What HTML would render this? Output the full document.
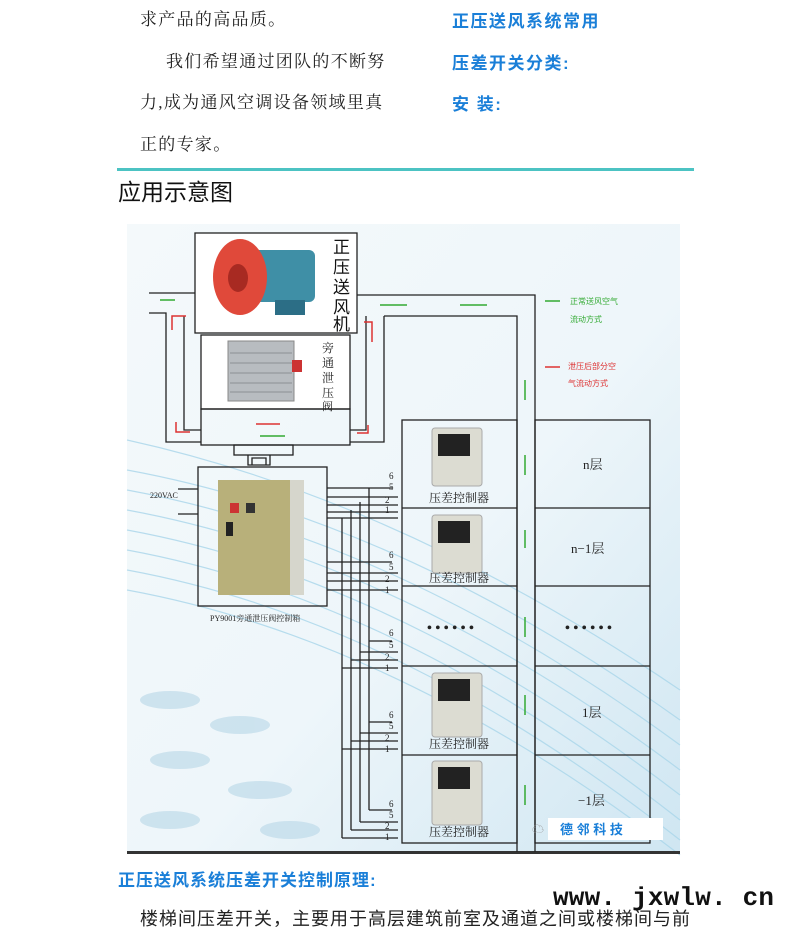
<!DOCTYPE html>
<html><head><meta charset="utf-8"><style>
html,body{margin:0;padding:0;background:#fff}
svg{display:block}
text{font-family:"Liberation Serif","Noto Serif CJK SC",serif}
.s{font-family:"Liberation Sans","Noto Sans CJK SC",sans-serif}
</style></head><body>
<svg width="795" height="941" viewBox="0 0 795 941" xmlns="http://www.w3.org/2000/svg">
<defs>
<linearGradient id="bg" x1="0" y1="0" x2="1" y2="1">
<stop offset="0" stop-color="#f4f9fb"/><stop offset="0.55" stop-color="#eef6fa"/><stop offset="1" stop-color="#cfe6f2"/>
</linearGradient>
</defs>
<g font-size="17" fill="#222" letter-spacing="1.3">
<text x="140" y="25">求产品的高品质。</text>
<text x="166" y="67">我们希望通过团队的不断努</text>
<text x="140" y="108">力,成为通风空调设备领域里真</text>
<text x="140" y="150">正的专家。</text>
</g>
<g class="s" font-size="17" font-weight="bold" fill="#1a7fd8" letter-spacing="1.5">
<text x="452" y="27" class="s">正压送风系统常用</text>
<text x="452" y="69" class="s">压差开关分类:</text>
<text x="452" y="110" class="s">安  装:</text>
</g>
<rect x="117" y="168" width="577" height="3" fill="#4cc3c3"/>
<text x="118" y="200" font-size="23" class="s" fill="#111">应用示意图</text>

<rect x="127" y="224" width="553" height="630" fill="url(#bg)"/>
<g stroke="#a9d6ea" stroke-width="1.2" fill="none" opacity="0.8">
<path d="M127 470 Q400 520 680 720"/><path d="M127 490 Q400 540 680 745"/><path d="M127 510 Q400 560 680 770"/>
<path d="M127 530 Q400 580 680 795"/><path d="M127 550 Q400 600 680 820"/><path d="M127 440 Q400 500 680 690"/>
<path d="M127 570 Q400 620 680 840"/><path d="M127 590 Q400 640 680 855"/>
</g>
<g fill="#bfdbea" opacity="0.7">
<ellipse cx="170" cy="700" rx="30" ry="9"/><ellipse cx="240" cy="725" rx="30" ry="9"/><ellipse cx="180" cy="760" rx="30" ry="9"/>
<ellipse cx="260" cy="790" rx="32" ry="9"/><ellipse cx="170" cy="820" rx="30" ry="9"/><ellipse cx="290" cy="830" rx="30" ry="9"/>
</g>
<rect x="127" y="851" width="553" height="3" fill="#333"/>

<g stroke="#222" stroke-width="1.3" fill="none">
<rect x="195" y="233" width="162" height="100" fill="#fff"/>
<rect x="201" y="335" width="149" height="74" fill="#fff"/>
<rect x="201" y="409" width="149" height="36"/>
<rect x="234" y="445" width="59" height="10"/>
<path d="M248 455v10h22v-10 M252 465v-7h14v7"/>
<path d="M149 293H195 M149 313H166V442H201 M184 316V430H201"/>
<path d="M357 295H535V852 M384 316H517V852 M366 316V430H350 M384 316V442H350"/>
<rect x="402" y="420" width="115" height="423"/>
<path d="M402 508H517 M402 586H517 M402 666H517 M402 755H517"/>
<rect x="535" y="420" width="115" height="423"/>
<path d="M535 508H650 M535 586H650 M535 666H650 M535 755H650"/>
<rect x="198" y="467" width="129" height="139"/>
<path d="M178 489H198 M178 514H198"/>
<path d="M342 518V838 M351 510V830 M360 502V822 M369 488V810"/>
<path d="M327 488H392 M327 497H398 M327 505H398 M327 512H398 M327 518H398"/>
<path d="M327 562H392 M327 573H398 M327 581H398 M327 590H398"/>
<path d="M369 641H392 M360 652H398 M351 660H398 M342 668H398"/>
<path d="M369 722H392 M360 733H398 M351 741H398 M342 749H398"/>
<path d="M369 810H392 M360 822H398 M351 830H398 M342 838H398"/>
</g>
<g font-size="9" fill="#222">
<text x="389" y="479">6</text><text x="389" y="490">5</text><text x="385" y="503">2</text><text x="385" y="513">1</text>
<text x="389" y="558">6</text><text x="389" y="570">5</text><text x="385" y="582">2</text><text x="385" y="593">1</text>
<text x="389" y="636">6</text><text x="389" y="648">5</text><text x="385" y="660">2</text><text x="385" y="671">1</text>
<text x="389" y="718">6</text><text x="389" y="729">5</text><text x="385" y="741">2</text><text x="385" y="752">1</text>
<text x="389" y="807">6</text><text x="389" y="818">5</text><text x="385" y="829">2</text><text x="385" y="840">1</text>
<text x="150" y="498" font-size="8">220VAC</text>
<text x="210" y="621" font-size="8">PY9001旁通泄压阀控制箱</text>
</g>

<rect x="240" y="250" width="75" height="52" rx="6" fill="#3f8fa6"/>
<rect x="275" y="300" width="30" height="15" fill="#2c6e86"/>
<ellipse cx="240" cy="277" rx="27" ry="38" fill="#e0493a"/>
<ellipse cx="238" cy="278" rx="10" ry="14" fill="#a82a22"/>
<g font-size="17" fill="#111" class="s"><text x="333" y="253" class="s">正</text><text x="333" y="273" class="s">压</text><text x="333" y="293" class="s">送</text><text x="333" y="313" class="s">风</text><text x="333" y="330" class="s">机</text></g>
<rect x="228" y="341" width="66" height="60" fill="#b8bcc0" stroke="#888"/>
<g stroke="#8c9094"><path d="M230 353H292 M230 363H292 M230 373H292 M230 383H292 M230 392H292"/></g>
<rect x="292" y="360" width="10" height="12" fill="#c33"/>
<g font-size="12" fill="#222"><text x="322" y="352">旁</text><text x="322" y="367">通</text><text x="322" y="382">泄</text><text x="322" y="397">压</text><text x="322" y="410" font-size="11">阀</text></g>
<rect x="218" y="480" width="86" height="115" fill="#b8b07a"/>
<rect x="290" y="480" width="14" height="115" fill="#d6d6cc"/>
<rect x="230" y="503" width="9" height="10" fill="#c33"/><rect x="246" y="503" width="9" height="10" fill="#333"/>
<rect x="226" y="522" width="7" height="14" fill="#222"/>
<g>
<rect x="432" y="428" width="50" height="58" rx="3" fill="#dcdcd2" stroke="#aaa"/><rect x="438" y="434" width="32" height="22" fill="#222"/>
<rect x="432" y="515" width="50" height="58" rx="3" fill="#dcdcd2" stroke="#aaa"/><rect x="438" y="521" width="32" height="22" fill="#222"/>
<rect x="432" y="673" width="50" height="64" rx="3" fill="#dcdcd2" stroke="#aaa"/><rect x="438" y="679" width="32" height="22" fill="#222"/>
<rect x="432" y="761" width="50" height="64" rx="3" fill="#dcdcd2" stroke="#aaa"/><rect x="438" y="767" width="32" height="22" fill="#222"/>
</g>
<g font-size="12" fill="#222">
<text x="429" y="502">压差控制器</text><text x="429" y="582">压差控制器</text><text x="429" y="748">压差控制器</text><text x="429" y="836">压差控制器</text>
<text x="427" y="632" font-size="14" font-weight="bold">• • • • • •</text>
<text x="565" y="632" font-size="14" font-weight="bold">• • • • • •</text>
</g>
<g font-size="13" fill="#222"><text x="583" y="469">n层</text><text x="571" y="553">n−1层</text><text x="582" y="717">1层</text><text x="578" y="805">−1层</text></g>
<g stroke-width="1.5" fill="none">
<path stroke="#3a3" d="M160 300H175 M380 305H407 M460 305H487 M260 436H285 M525 380V400 M525 455V475 M525 530V548 M525 617V637 M525 695V715 M525 785V805 M545 301H560"/>
<path stroke="#d33" d="M172 330V316H186 M176 422V432H190 M256 424H280 M364 322H372V342 M368 425V433H357 M545 367H560"/>
</g>
<g font-size="8" fill="#3a3" class="s"><text x="570" y="304" class="s">正常送风空气</text><text x="570" y="322" class="s">流动方式</text></g>
<g font-size="8" fill="#d33" class="s"><text x="568" y="369" class="s">泄压后部分空</text><text x="568" y="386" class="s">气流动方式</text></g>
<rect x="548" y="818" width="115" height="22" fill="#fff"/>
<text x="560" y="834" font-size="13" font-weight="bold" fill="#1a7fd8" class="s">德 邻 科 技</text>
<text x="532" y="833" font-size="12" fill="#999">☁</text>

<text x="118" y="886" font-size="17" font-weight="bold" fill="#1a7fd8" class="s" letter-spacing="1">正压送风系统压差开关控制原理:</text>
<text x="553" y="905" font-size="26" font-weight="bold" fill="#111" letter-spacing="0.2" style="font-family:'Liberation Mono',monospace">www. jxwlw. cn</text>
<text x="140" y="925" font-size="18" fill="#222" class="s" letter-spacing="1">楼梯间压差开关，主要用于高层建筑前室及通道之间或楼梯间与前</text>
</svg>
</body></html>
